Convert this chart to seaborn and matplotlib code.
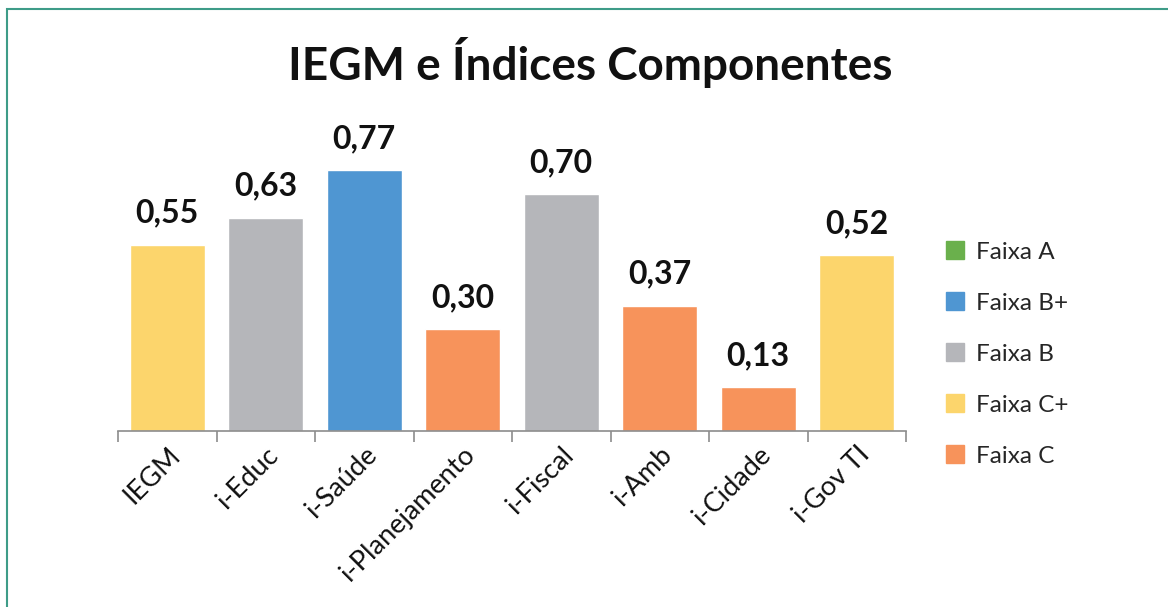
import matplotlib
matplotlib.use("Agg")
import matplotlib.pyplot as plt
import matplotlib.patches as mpatches
import seaborn as sns
import pandas as pd

categories = ["IEGM", "i-Educ", "i-Saúde", "i-Planejamento", "i-Fiscal", "i-Amb", "i-Cidade", "i-Gov TI"]
values = [0.55, 0.63, 0.77, 0.30, 0.70, 0.37, 0.13, 0.52]
faixas = ["Faixa C+", "Faixa B", "Faixa B+", "Faixa C", "Faixa B", "Faixa C", "Faixa C", "Faixa C+"]
legend_levels = ["Faixa A", "Faixa B+", "Faixa B", "Faixa C+", "Faixa C"]
level_colors = ["#6AB04C", "#4F96D2", "#B5B6BA", "#FCD56C", "#F7935B"]

sns.set_theme(style="white")
plt.rcParams["font.family"] = ["Lato", "DejaVu Sans"]

df = pd.DataFrame({"cat": categories, "val": values, "faixa": faixas})
palette = dict(zip(legend_levels, level_colors))

fig = plt.figure(figsize=(11.68, 6.07), dpi=100)
W, H = 1168, 607
ax = fig.add_axes([118 / W, 1 - 431 / H, (906 - 118) / W, (431 - 143) / H])

sns.barplot(data=df, x="cat", y="val", hue="faixa", palette=palette, dodge=False,
            width=0.76, order=categories, ax=ax, legend=False, saturation=1)

ax.set_ylim(0, 0.85)
ax.set_xlim(-0.5, len(categories) - 0.5)
ax.set_xlabel("")
ax.set_ylabel("")
ax.set_yticks([])
for s in ["top", "right", "left"]:
    ax.spines[s].set_visible(False)
ax.spines["bottom"].set_color("#8C8C8C")
ax.spines["bottom"].set_linewidth(1.2)

# ticks at category boundaries
ax.set_xticks([i - 0.5 for i in range(len(categories) + 1)], minor=False)
ax.set_xticklabels([])
ax.tick_params(axis="x", which="major", direction="out", length=8, color="#8C8C8C", width=1.2, bottom=True)
ax.set_xticks(range(len(categories)), minor=True)
ax.set_xticklabels(categories, minor=True, rotation=45, ha="right", rotation_mode="anchor",
                   fontsize=19.5, color="#111111")
ax.tick_params(axis="x", which="minor", length=0, pad=8)

for i, v in enumerate(values):
    ax.text(i, v + 0.05, f"{v:.2f}".replace(".", ","), ha="center", va="bottom",
            fontsize=23, fontweight="bold", color="#111111")

fig.text(590 / W, 1 - 62 / H, "IEGM e Índices Componentes", ha="center", va="center",
         fontsize=33, fontweight="bold", color="#111111")

handles = [mpatches.Patch(color=c, label=l) for l, c in zip(legend_levels, level_colors)]
leg = fig.legend(handles=handles, loc="center left", bbox_to_anchor=(924 / W, 1 - 354 / H),
                 frameon=False, fontsize=17.5, handlelength=0.75, handleheight=0.75,
                 labelspacing=1.22, handletextpad=0.5)

border = mpatches.Rectangle((7 / W, -0.1), 1.2, 1 - 9 / H + 0.1, transform=fig.transFigure,
                            fill=False, edgecolor="#3E9C88", linewidth=1.5)
fig.patches.append(border)

fig.savefig("out.png", dpi=100, facecolor="white")
